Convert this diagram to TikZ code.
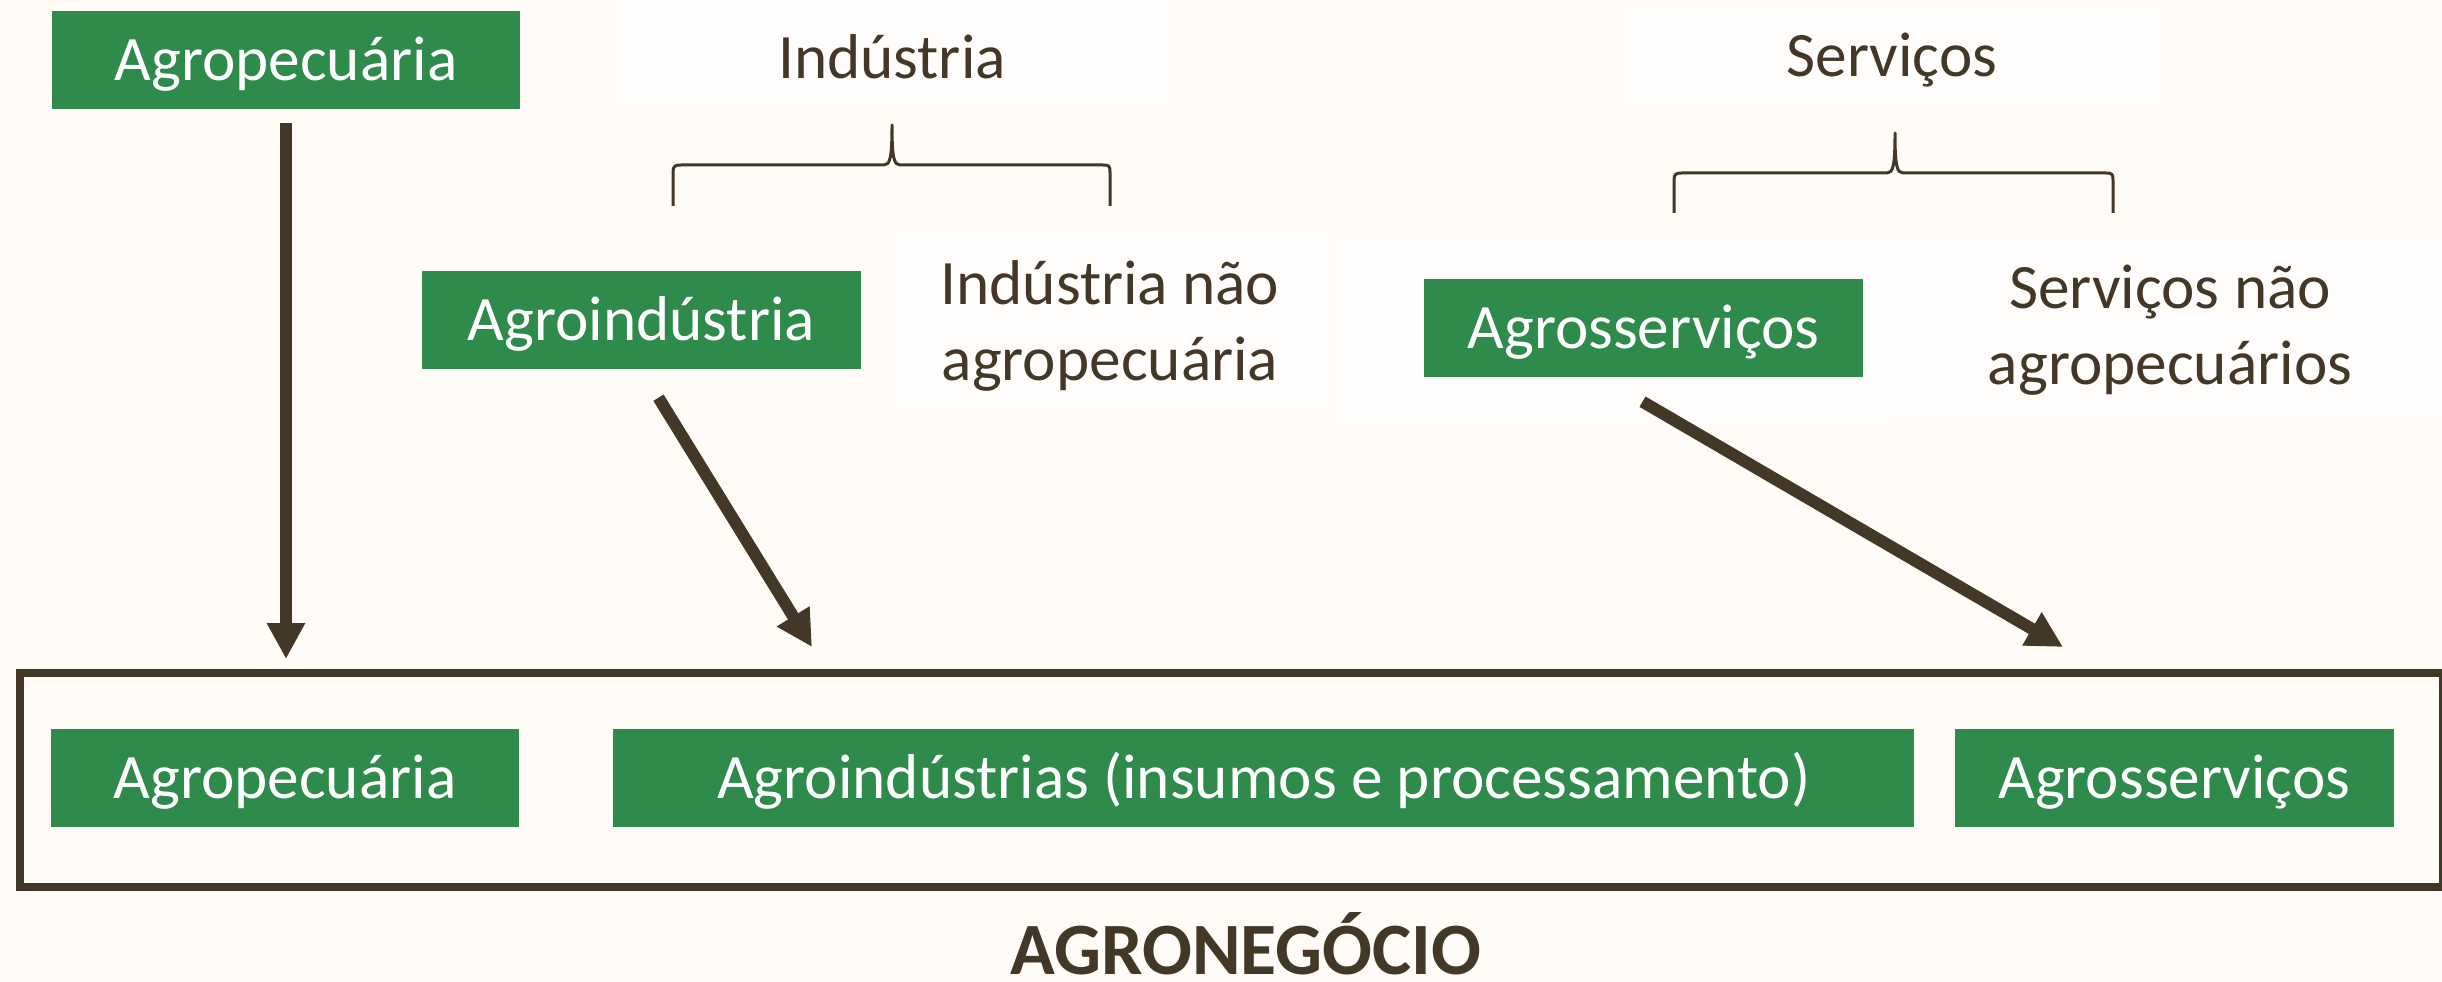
\documentclass[tikz,border=0pt]{standalone}
\usepackage{fontspec}
\setmainfont{Carlito}
\usetikzlibrary{positioning,arrows.meta}
\definecolor{agrogreen}{RGB}{46,139,76}
\definecolor{darkbrown}{RGB}{67,56,40}
\definecolor{paper}{RGB}{255,251,247}
\definecolor{panel}{RGB}{255,253,252}

\begin{document}
\begin{tikzpicture}[align=center,font=\fontsize{18pt}{21.8pt}\selectfont,
    greenbox/.style={fill=agrogreen,text=white,inner sep=0pt,minimum height=0.98cm,text height=11.5pt,text depth=0pt},
    plaintext/.style={text=darkbrown,inner sep=0pt,anchor=base},
    arr/.style={darkbrown,line width=1.2mm,-{Triangle[length=3.6mm,width=3.6mm]}},
    bracket/.style={darkbrown,line width=0.3mm,line join=round}]
      %page
      \fill[paper] (0,0) rectangle (24.42,-9.82);
      \useasboundingbox (0,0) rectangle (24.42,-9.82);
      \fill[panel] (6.14,0) rectangle (11.69,-1.07);
      \fill[panel] (16.18,-0.07) rectangle (21.67,-1.05);
      \fill[panel] (8.90,-2.32) rectangle (13.28,-4.08);
      \fill[panel] (13.29,-2.33) rectangle (18.94,-4.27);
      \fill[panel] (18.94,-2.40) rectangle (24.42,-4.17);

      %upper row
      \node[greenbox,minimum width=4.68cm] (agro) at (2.86,-0.605) {Agropecuária};
      \node[plaintext] (ind) at (8.92,-0.79) {Indústria};
      \node[plaintext] (serv) at (18.92,-0.77) {Serviços};
      \node[greenbox,minimum width=4.39cm] (agroind) at (6.415,-3.20) {Agroindústria};
      \node[plaintext] (indnao) at (11.10,-3.81) {Indústria não\\agropecuária};
      \node[greenbox,minimum width=4.39cm] (agroserv) at (16.435,-3.28) {Agrosserviços};
      \node[plaintext] (servnao) at (21.70,-3.85) {Serviços não\\agropecuários};

      %braces
      \draw[bracket] (6.73,-2.06) -- (6.73,-1.72) .. controls (6.73,-1.66) and (6.75,-1.65) .. (6.81,-1.65) -- (8.84,-1.65) .. controls (8.90,-1.65) and (8.92,-1.58) .. (8.92,-1.25) .. controls (8.92,-1.58) and (8.94,-1.65) .. (9.00,-1.65) -- (11.03,-1.65) .. controls (11.09,-1.65) and (11.10,-1.66) .. (11.10,-1.72) -- (11.10,-2.06);
      \draw[bracket] (16.74,-2.13) -- (16.74,-1.80) .. controls (16.74,-1.74) and (16.76,-1.73) .. (16.82,-1.73) -- (18.87,-1.73) .. controls (18.93,-1.73) and (18.95,-1.66) .. (18.95,-1.33) .. controls (18.95,-1.66) and (18.97,-1.73) .. (19.03,-1.73) -- (21.06,-1.73) .. controls (21.12,-1.73) and (21.13,-1.74) .. (21.13,-1.80) -- (21.13,-2.13);

      %agronegocio
      \node[draw=darkbrown,line width=0.8mm,minimum width=24.23cm,minimum height=2.14cm,inner sep=0pt] (frame) at (12.315,-7.80) {};
      \node[greenbox,minimum width=4.68cm] (agropec) at (2.85,-7.78) {Agropecuária};
      \node[greenbox,minimum width=13.01cm,right=0.93cm of agropec] (agroinds) {Agroindústrias (insumos e processamento)};
      \node[greenbox,minimum width=4.39cm,right=0.39cm of agroinds] (agroservs) {Agrosserviços};
      \node[plaintext,font=\fontsize{21pt}{25pt}\selectfont\bfseries] (agroneg) at (12.46,-9.74) {AGRONEGÓCIO};

      %arrows
      \coordinate (tip1) at (2.86,-6.59);
      \coordinate (tip2) at (8.12,-6.47);
      \coordinate (tip3) at (20.63,-6.47);
      \draw[arr] ([yshift=-0.13cm]agro.south) -- (tip1);
      \draw[arr] ([xshift=0.17cm,yshift=-0.28cm]agroind.south) -- (tip2);
      \draw[arr] ([xshift=-0.01cm,yshift=-0.24cm]agroserv.south) -- (tip3);
\end{tikzpicture}
\end{document}
